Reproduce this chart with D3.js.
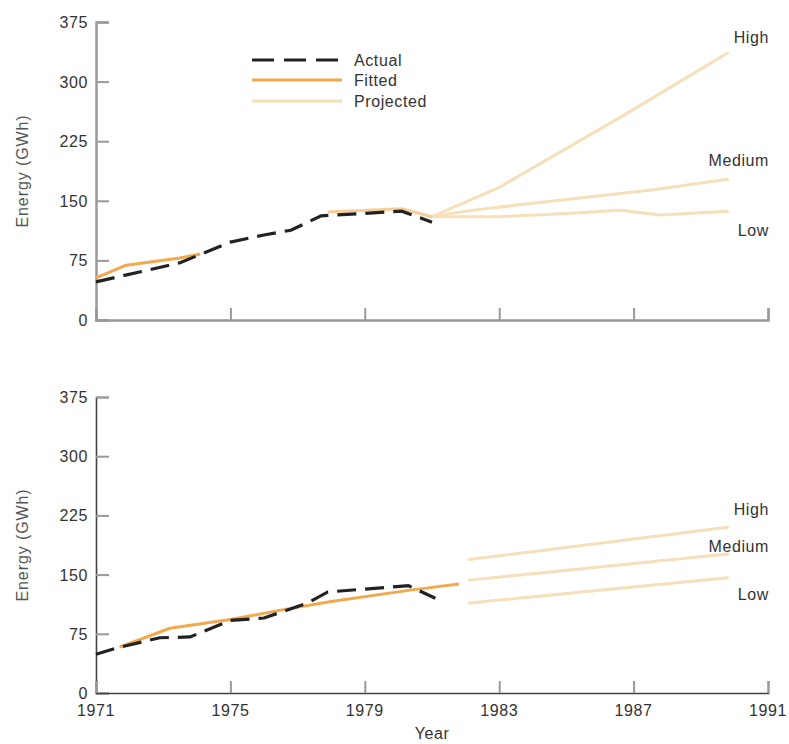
<!DOCTYPE html>
<html>
<head>
<meta charset="utf-8">
<script src="https://cdn.jsdelivr.net/npm/d3@7"></script>
<style>
  html, body { margin: 0; padding: 0; background: #fff; }
  text { font-family: "Liberation Sans", Arial, Helvetica, sans-serif; letter-spacing: 0.6px; }
</style>
</head>
<body>
<svg id="chart" width="789" height="744"></svg>
<script>
// ---------- data ----------
const xTickYears = [1971, 1975, 1979, 1983, 1987, 1991];
const yTickValues = [0, 75, 150, 225, 300, 375];
const legendLabels = ["Actual", "Fitted", "Projected"];
const scenarioLabels = ["High", "Medium", "Low"];

// top panel
const topActualYears  = [1971, 1973.5, 1975, 1976, 1976.8, 1977.7, 1980.1, 1981];
const topActualValues = [48, 72, 98, 107, 113, 131, 137, 123];
const topFittedEarlyYears  = [1971, 1971.9, 1973.5, 1974.1];
const topFittedEarlyValues = [53, 69, 78, 83];
const topFittedLateYears   = [1977.9, 1980.1, 1981];
const topFittedLateValues  = [136, 140, 130];
const topHighYears    = [1981, 1983, 1986.6, 1989.8];
const topHighValues   = [130, 167, 255, 336];
const topMediumYears  = [1981, 1982, 1983.6, 1987.6, 1989.8];
const topMediumValues = [130, 137, 145, 164, 177];
const topLowYears     = [1981, 1983, 1985, 1986.6, 1987.8, 1989.8];
const topLowValues    = [130, 130, 134, 138, 132, 137];

// bottom panel
const botActualYears  = [1971, 1971.7, 1972.9, 1973.8, 1975, 1976, 1977.3, 1977.9, 1980.3, 1981.1];
const botActualValues = [49, 58, 70, 71, 92, 95, 114, 128, 136, 120];
const botFittedYears  = [1971.7, 1973.2, 1975, 1976.5, 1978, 1980.3, 1981.8];
const botFittedValues = [58, 82, 93, 105, 116, 130, 138];
const botHighYears    = [1982.1, 1989.8];
const botHighValues   = [169, 210];
const botMediumYears  = [1982.1, 1989.8];
const botMediumValues = [143, 176];
const botLowYears     = [1982.1, 1989.8];
const botLowValues    = [114, 146];

// ---------- styles ----------
const C_ACTUAL = "#222";
const C_FIT = "#f0a94e";
const C_FIT_LIGHT = "#f4cf98";
const C_PROJ = "#f5e0ba";
const C_TEXT = "#333";

const svg = d3.select("#chart");
const x = d3.scaleLinear().domain([1971, 1991]).range([96, 768]);

const zip = (xs, ys) => xs.map((d, i) => [d, ys[i]]);

function panel(top, bottom, series, labelYs, showXLabels, axisColor, axisWidth) {
  const y = d3.scaleLinear().domain([0, 375]).range([bottom, top]);
  const g = svg.append("g");
  const line = d3.line().x(d => x(d[0])).y(d => y(d[1]));

  // y axis
  const yAxis = d3.axisRight(y).tickValues(yTickValues).tickSize(13).tickFormat("");
  const ya = g.append("g").attr("transform", `translate(${x(1971)},0)`).call(yAxis);
  ya.select(".domain").attr("stroke", axisColor).attr("stroke-width", axisWidth);
  ya.selectAll(".tick line").attr("stroke", "#999").attr("stroke-width", 2);
  g.selectAll(".ylab").data(yTickValues).join("text")
    .attr("x", 88).attr("y", d => y(d) + 6)
    .attr("text-anchor", "end").attr("font-size", 16).attr("fill", C_TEXT)
    .text(d => d);

  // x axis
  const xAxis = d3.axisTop(x).tickValues(xTickYears).tickSize(12).tickFormat("");
  const xa = g.append("g").attr("transform", `translate(0,${bottom})`).call(xAxis);
  xa.select(".domain").attr("stroke", axisColor).attr("stroke-width", axisWidth);
  xa.selectAll(".tick line").attr("stroke", "#999").attr("stroke-width", 2);
  if (showXLabels) {
    g.selectAll(".xlab").data(xTickYears).join("text")
      .attr("x", d => x(d)).attr("y", bottom + 23)
      .attr("text-anchor", "middle").attr("font-size", 16).attr("fill", C_TEXT)
      .text(d => d);
  }

  // y title
  g.append("text")
    .attr("transform", `translate(28,${(top + bottom) / 2}) rotate(-90)`)
    .attr("text-anchor", "middle").attr("font-size", 16).attr("fill", "#555")
    .style("letter-spacing", "0.9px")
    .text("Energy (GWh)");

  // projections
  series.proj.forEach((s, i) => {
    g.append("path").attr("d", line(s)).attr("fill", "none")
      .attr("stroke", C_PROJ).attr("stroke-width", 3).attr("stroke-linecap", "round");
    g.append("text").attr("x", 769).attr("y", labelYs[i] + 6)
      .attr("text-anchor", "end").attr("font-size", 16).attr("fill", C_TEXT)
      .text(scenarioLabels[i]);
  });
  // fitted
  series.fit.forEach(f => {
    g.append("path").attr("d", line(f.pts)).attr("fill", "none")
      .attr("stroke", f.color).attr("stroke-width", 3).attr("stroke-linejoin", "round");
  });
  // actual
  g.append("path").attr("d", line(series.act)).attr("fill", "none")
    .attr("stroke", C_ACTUAL).attr("stroke-width", 3.2).attr("stroke-dasharray", "19,9");
}

panel(22, 320, {
  act: zip(topActualYears, topActualValues),
  fit: [
    { pts: zip(topFittedEarlyYears, topFittedEarlyValues), color: C_FIT },
    { pts: zip(topFittedLateYears, topFittedLateValues), color: C_FIT_LIGHT }
  ],
  proj: [zip(topHighYears, topHighValues), zip(topMediumYears, topMediumValues), zip(topLowYears, topLowValues)]
}, [37, 160, 230], false, "#9a9a9a", 2.5);

panel(397, 693, {
  act: zip(botActualYears, botActualValues),
  fit: [{ pts: zip(botFittedYears, botFittedValues), color: C_FIT }],
  proj: [zip(botHighYears, botHighValues), zip(botMediumYears, botMediumValues), zip(botLowYears, botLowValues)]
}, [509, 546, 594], true, "#444", 1.6);

// x title
svg.append("text").attr("x", 432).attr("y", 739).attr("text-anchor", "middle")
  .attr("font-size", 16).attr("fill", C_TEXT).text("Year");

// legend
const legendStyles = [
  { stroke: C_ACTUAL, dash: "22,10", w: 3 },
  { stroke: C_FIT, dash: null, w: 3 },
  { stroke: C_PROJ, dash: null, w: 3 }
];
const legendY = [60, 80, 101];
legendLabels.forEach((lab, i) => {
  const st = legendStyles[i];
  svg.append("line").attr("x1", 252).attr("x2", 342).attr("y1", legendY[i]).attr("y2", legendY[i])
    .attr("stroke", st.stroke).attr("stroke-width", st.w)
    .attr("stroke-dasharray", st.dash);
  svg.append("text").attr("x", 354).attr("y", legendY[i] + 6)
    .attr("font-size", 16).attr("fill", C_TEXT).text(lab);
});
</script>
</body>
</html>
